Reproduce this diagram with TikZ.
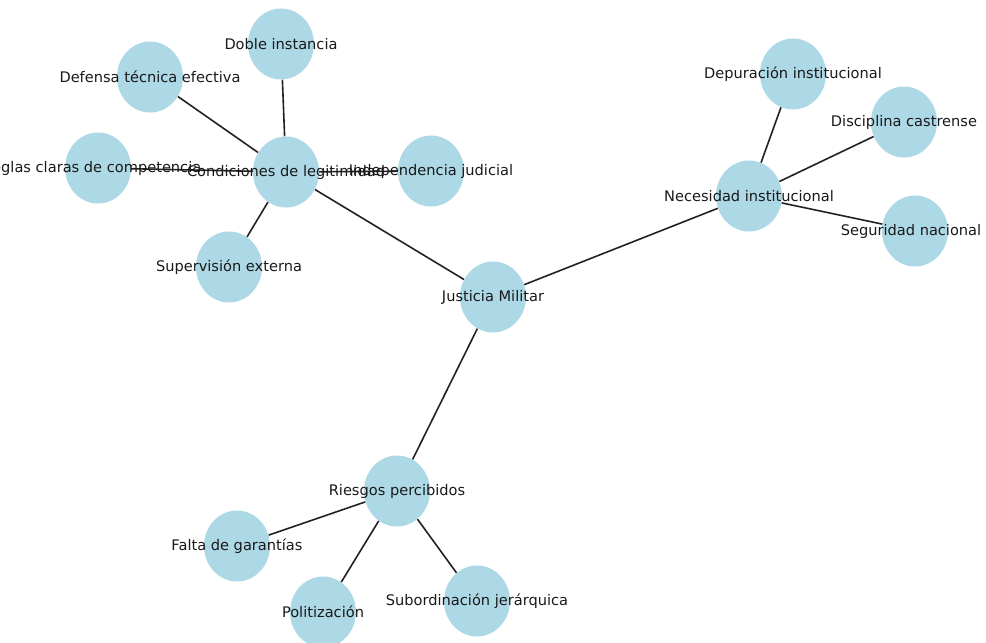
\documentclass[tikz,border=0pt]{standalone}
\usepackage{fontspec}
\setmainfont{DejaVu Sans}
\usetikzlibrary{shapes.geometric,backgrounds}
\definecolor{nodeblue}{HTML}{ADD8E6}
\definecolor{edgegray}{HTML}{222222}
\tikzset{
  dot/.style={ellipse,fill=nodeblue,draw=none,minimum width=66pt,minimum height=71pt,inner sep=0pt},
  lbl/.style={font=\fontsize{14.6pt}{16pt}\selectfont,text=black!90,inner sep=0pt},
  edge/.style={draw=edgegray,line width=1.6pt}
}
\begin{document}
\begin{tikzpicture}[x=1pt,y=-1pt]
\useasboundingbox (0,0) rectangle (986,643);
\clip (0,0) rectangle (986,643);
\node[dot] (jm) at (493,297) {};
\node[dot] (cl) at (286,172) {};
\node[dot] (di) at (281,44) {};
\node[dot] (dt) at (150,77) {};
\node[dot] (rc) at (98,168) {};
\node[dot] (ij) at (431,171) {};
\node[dot] (se) at (229,267) {};
\node[dot] (ni) at (749,196) {};
\node[dot] (dp) at (793,74) {};
\node[dot] (dc) at (904,122) {};
\node[dot] (sn) at (915,231) {};
\node[dot] (rp) at (397,491) {};
\node[dot] (fg) at (237,546) {};
\node[dot] (po) at (323,612) {};
\node[dot] (sj) at (477,601) {};
\begin{scope}[on background layer]
\draw[edge] (jm) -- (cl);
\draw[edge] (jm) -- (ni);
\draw[edge] (jm) -- (rp);
\draw[edge] (cl) -- (di);
\draw[edge] (cl) -- (dt);
\draw[edge] (cl) -- (rc);
\draw[edge] (cl) -- (ij);
\draw[edge] (cl) -- (se);
\draw[edge] (ni) -- (dp);
\draw[edge] (ni) -- (dc);
\draw[edge] (ni) -- (sn);
\draw[edge] (rp) -- (fg);
\draw[edge] (rp) -- (po);
\draw[edge] (rp) -- (sj);
\end{scope}
\node[lbl] at (jm) {Justicia Militar};
\node[lbl] at (cl) {Condiciones de legitimidad};
\node[lbl] at (di) {Doble instancia};
\node[lbl] at (dt) {Defensa técnica efectiva};
\node[lbl] at ([xshift=-6pt]rc) {Reglas claras de competencia};
\node[lbl] at (ij) {Independencia judicial};
\node[lbl] at (se) {Supervisión externa};
\node[lbl] at (ni) {Necesidad institucional};
\node[lbl] at (dp) {Depuración institucional};
\node[lbl] at (dc) {Disciplina castrense};
\node[lbl] at ([xshift=-4pt]sn) {Seguridad nacional};
\node[lbl] at (rp) {Riesgos percibidos};
\node[lbl] at (fg) {Falta de garantías};
\node[lbl] at (po) {Politización};
\node[lbl] at (sj) {Subordinación jerárquica};
\end{tikzpicture}
\end{document}
